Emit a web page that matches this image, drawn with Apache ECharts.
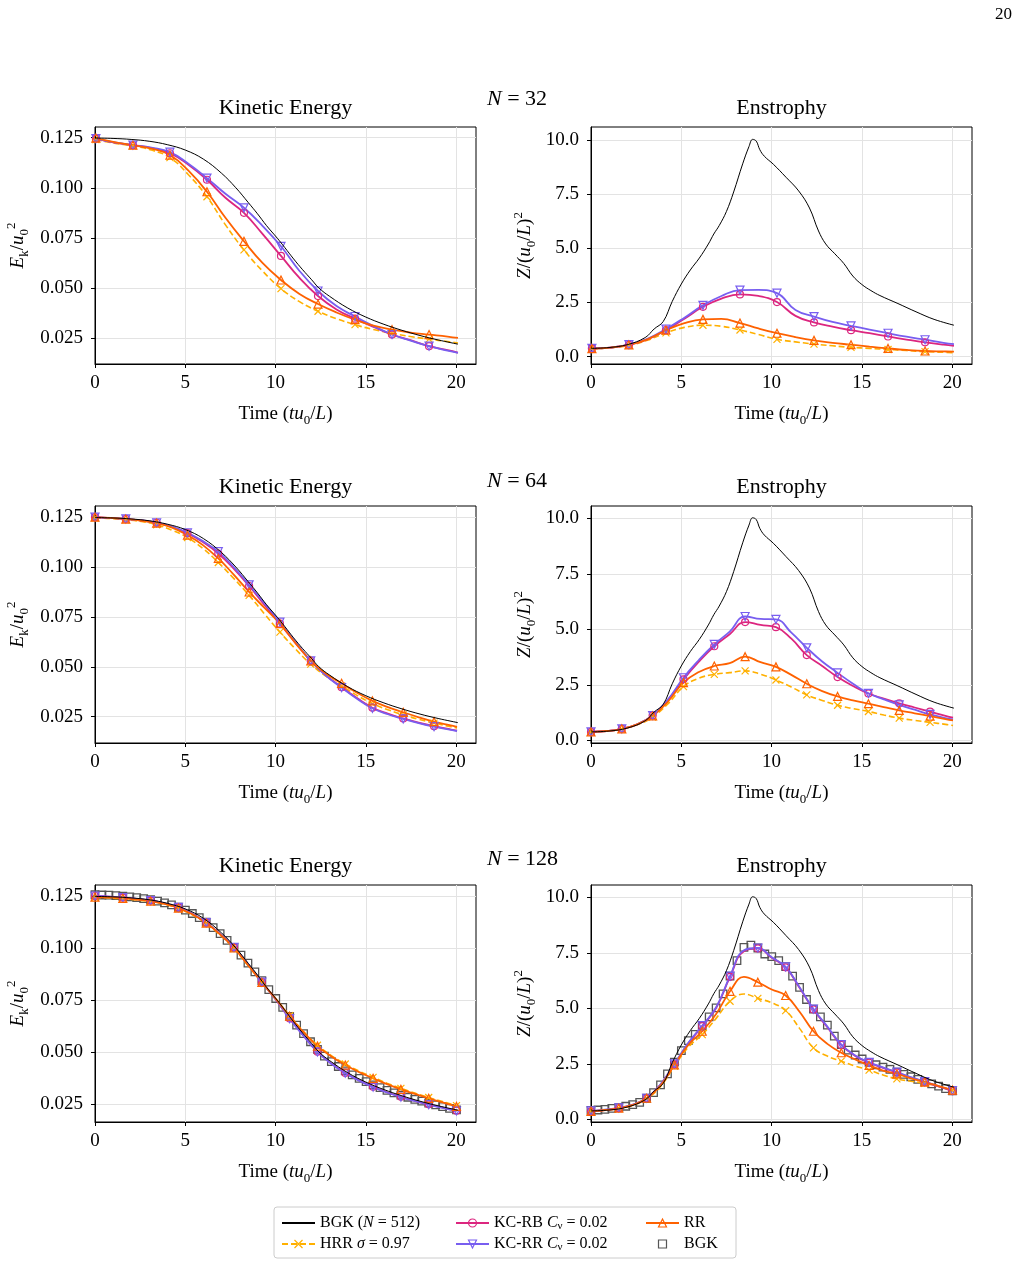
<!DOCTYPE html>
<html><head><meta charset="utf-8">
<script src="https://cdn.jsdelivr.net/npm/echarts@6/dist/echarts.min.js"></script>
<style>html,body{margin:0;padding:0;background:#fff}#c{width:1018px;height:1267px}</style>
</head><body><div id="c"></div>
<script>
// ---------- reference BGK (N = 512), same in all rows ----------
const tRefKE = [0,1,2,3,4,5,6,7,7.8,8.5,9,9.5,10.1,10.5,11,11.5,12,12.4,13,14,15,16,17,18,19,20.1];
const keRef  = [0.1248,0.1246,0.1241,0.1232,0.1215,0.1188,0.1143,0.1073,0.1000,0.0925,0.0870,0.0811,0.0748,0.0703,0.0645,0.0591,0.0541,0.0500,0.0458,0.0400,0.0355,0.0319,0.0289,0.0263,0.0241,0.0220];
const tRefEns = [0,1,2,3,3.5,4,4.5,5,5.5,6,6.5,6.8,7.1,7.5,7.9,8.4,8.75,8.95,9.15,9.35,9.6,10.1,10.8,11.5,12.1,12.6,13,13.5,14,14.5,15,15.5,16,17,18,19,20.1];
const ensRef  = [0.38,0.42,0.55,0.88,1.28,1.62,2.55,3.35,4.0,4.55,5.2,5.66,6.05,6.7,7.6,8.9,9.7,10.03,9.95,9.55,9.25,8.88,8.28,7.65,6.86,5.8,5.2,4.75,4.3,3.72,3.33,3.05,2.82,2.45,2.07,1.72,1.45];

// ---------- N = 32 ----------
const t32 = [0.05,1.075,2.1,3.125,4.15,5.175,6.2,7.225,8.25,9.275,10.3,11.325,12.35,13.375,14.4,15.425,16.45,17.475,18.5,19.525,20.1];
const ke32_HRR  = [0.1240,0.1222,0.1208,0.1188,0.1150,0.1065,0.0955,0.0815,0.0690,0.0585,0.0497,0.0432,0.0384,0.0347,0.0317,0.0293,0.0274,0.0258,0.0245,0.0233,0.0226];
const ke32_KCRB = [0.1245,0.1225,0.1212,0.1198,0.1172,0.1115,0.1040,0.0950,0.0875,0.0770,0.0660,0.0550,0.0460,0.0393,0.0347,0.0306,0.0268,0.0240,0.0210,0.0190,0.0178];
const ke32_KCRR = [0.1245,0.1226,0.1213,0.1200,0.1178,0.1120,0.1048,0.0970,0.0900,0.0810,0.0708,0.0585,0.0485,0.0410,0.0358,0.0310,0.0268,0.0238,0.0210,0.0188,0.0177];
const ke32_RR   = [0.1248,0.1228,0.1212,0.1195,0.1163,0.1085,0.0980,0.0850,0.0733,0.0625,0.0540,0.0470,0.0420,0.0378,0.0342,0.0312,0.0292,0.0278,0.0268,0.0258,0.0251];
const en32_HRR  = [0.36,0.41,0.52,0.76,1.10,1.35,1.45,1.40,1.23,1.02,0.80,0.68,0.58,0.50,0.43,0.38,0.33,0.28,0.23,0.20,0.18];
const en32_KCRB = [0.38,0.42,0.54,0.80,1.22,1.75,2.30,2.68,2.87,2.80,2.52,1.88,1.58,1.38,1.22,1.08,0.93,0.79,0.66,0.55,0.50];
const en32_KCRR = [0.38,0.42,0.55,0.82,1.27,1.80,2.37,2.80,3.07,3.08,2.93,2.15,1.85,1.60,1.42,1.25,1.08,0.92,0.78,0.64,0.58];
const en32_RR   = [0.37,0.42,0.54,0.80,1.22,1.55,1.72,1.74,1.55,1.30,1.08,0.90,0.75,0.64,0.55,0.46,0.38,0.31,0.26,0.24,0.23];

// ---------- N = 64 ----------
const t64 = [0,0.854,1.707,2.561,3.414,4.268,5.121,5.975,6.828,7.682,8.535,9.389,10.242,11.096,11.949,12.803,13.656,14.51,15.363,16.217,17.07,17.924,18.777,19.631,20.05];
const ke64_HRR  = [0.1246,0.1243,0.1237,0.1228,0.1212,0.1185,0.1148,0.1093,0.1023,0.0943,0.0858,0.0765,0.0674,0.0590,0.0513,0.0452,0.0404,0.0357,0.0315,0.0285,0.0259,0.0237,0.0218,0.0201,0.0194];
const ke64_KCRB = [0.1250,0.1246,0.1241,0.1234,0.1222,0.1202,0.1170,0.1125,0.1068,0.0992,0.0905,0.0810,0.0716,0.0620,0.0530,0.0456,0.0398,0.0343,0.0295,0.0265,0.0241,0.0220,0.0202,0.0187,0.0180];
const ke64_KCRR = [0.1250,0.1246,0.1241,0.1234,0.1222,0.1203,0.1172,0.1130,0.1077,0.1000,0.0911,0.0818,0.0724,0.0625,0.0530,0.0455,0.0396,0.0340,0.0292,0.0262,0.0239,0.0218,0.0200,0.0185,0.0178];
const ke64_RR   = [0.1250,0.1246,0.1240,0.1232,0.1220,0.1198,0.1160,0.1110,0.1043,0.0962,0.0875,0.0795,0.0716,0.0620,0.0530,0.0465,0.0417,0.0370,0.0329,0.0298,0.0272,0.0247,0.0225,0.0207,0.0199];
const en64_HRR  = [0.37,0.41,0.50,0.70,1.05,1.65,2.42,2.80,2.97,3.05,3.13,2.98,2.72,2.40,2.05,1.80,1.58,1.43,1.30,1.14,1.00,0.90,0.81,0.72,0.67];
const en64_KCRB = [0.38,0.42,0.52,0.72,1.12,1.82,2.75,3.55,4.24,4.78,5.33,5.20,5.10,4.58,3.84,3.35,2.85,2.45,2.11,1.88,1.67,1.48,1.29,1.10,1.02];
const en64_KCRR = [0.38,0.42,0.52,0.72,1.12,1.85,2.82,3.62,4.32,4.90,5.58,5.47,5.45,4.85,4.17,3.55,3.04,2.55,2.12,1.85,1.60,1.38,1.17,1.00,0.94];
const en64_RR   = [0.38,0.42,0.52,0.72,1.10,1.75,2.60,3.08,3.35,3.48,3.77,3.52,3.31,2.95,2.55,2.22,1.98,1.80,1.65,1.50,1.35,1.22,1.09,0.96,0.90];

// ---------- N = 128 ----------
const t128 = [0,0.77,1.54,2.31,3.08,3.85,4.62,5.39,6.16,6.93,7.7,8.47,9.24,10.01,10.78,11.55,12.32,13.09,13.86,14.63,15.4,16.17,16.94,17.71,18.48,19.25,20.02];
const ke128_HRR  = [0.1243,0.1241,0.1237,0.1231,0.1223,0.1210,0.1190,0.1160,0.1117,0.1062,0.0997,0.0916,0.0834,0.0756,0.0675,0.0598,0.0532,0.0482,0.0442,0.0408,0.0378,0.0350,0.0325,0.0302,0.0281,0.0261,0.0242];
const ke128_KCRB = [0.1250,0.1247,0.1242,0.1236,0.1228,0.1215,0.1195,0.1165,0.1122,0.1068,0.1003,0.0922,0.0836,0.0752,0.0661,0.0578,0.0501,0.0444,0.0399,0.0363,0.0332,0.0306,0.0284,0.0265,0.0248,0.0232,0.0217];
const ke128_KCRR = [0.1250,0.1247,0.1242,0.1236,0.1228,0.1215,0.1195,0.1165,0.1122,0.1068,0.1003,0.0922,0.0836,0.0752,0.0660,0.0577,0.0500,0.0443,0.0398,0.0362,0.0331,0.0305,0.0283,0.0264,0.0247,0.0231,0.0216];
const ke128_RR   = [0.1245,0.1243,0.1239,0.1233,0.1225,0.1212,0.1192,0.1162,0.1120,0.1065,0.1000,0.0918,0.0835,0.0755,0.0672,0.0595,0.0528,0.0478,0.0437,0.0403,0.0373,0.0345,0.0320,0.0298,0.0277,0.0257,0.0238];
const en128_HRR  = [0.36,0.41,0.49,0.63,0.92,1.48,2.40,3.25,3.82,4.55,5.32,5.65,5.45,5.25,4.90,4.10,3.22,2.85,2.62,2.40,2.22,2.00,1.82,1.72,1.62,1.48,1.30];
const en128_KCRB = [0.36,0.42,0.50,0.65,0.95,1.56,2.48,3.42,4.20,5.02,6.42,7.58,7.70,7.28,6.85,5.93,4.95,4.15,3.35,2.86,2.55,2.32,2.11,1.88,1.68,1.48,1.27];
const en128_KCRR = [0.38,0.44,0.52,0.66,0.95,1.58,2.50,3.45,4.22,5.05,6.45,7.62,7.72,7.30,6.87,5.95,4.97,4.18,3.37,2.88,2.57,2.34,2.13,1.90,1.70,1.50,1.30];
const en128_RR   = [0.36,0.42,0.50,0.65,0.95,1.52,2.45,3.35,3.97,4.75,5.77,6.42,6.18,5.85,5.58,4.85,3.97,3.40,3.00,2.70,2.43,2.20,2.05,1.85,1.68,1.50,1.32];
const tSq = [0,0.385,0.77,1.155,1.54,1.925,2.31,2.695,3.08,3.465,3.85,4.235,4.62,5.005,5.39,5.775,6.16,6.545,6.93,7.315,7.7,8.085,8.47,8.855,9.24,9.625,10.01,10.395,10.78,11.165,11.55,11.935,12.32,12.705,13.09,13.475,13.86,14.245,14.63,15.015,15.4,15.785,16.17,16.555,16.94,17.325,17.71,18.095,18.48,18.865,19.25,19.635,20.02];
const ke128_BGK = [0.1256,0.1255,0.1254,0.1252,0.1249,0.1246,0.1242,0.1237,0.1232,0.1225,0.1217,0.1207,0.1196,0.1182,0.1166,0.1146,0.1124,0.1098,0.1069,0.1037,0.1003,0.0966,0.0927,0.0885,0.0843,0.0800,0.0757,0.0714,0.0671,0.0629,0.0588,0.0549,0.0512,0.0480,0.0453,0.0430,0.0409,0.0390,0.0373,0.0357,0.0342,0.0328,0.0315,0.0303,0.0292,0.0282,0.0272,0.0263,0.0254,0.0245,0.0237,0.0229,0.0221];
const en128_BGK = [0.40,0.42,0.45,0.49,0.53,0.59,0.66,0.76,0.95,1.20,1.55,2.05,2.58,3.10,3.55,3.83,4.20,4.62,5.02,5.65,6.45,7.15,7.75,7.85,7.72,7.45,7.33,7.15,6.88,6.45,5.95,5.40,4.97,4.62,4.25,3.75,3.37,3.12,2.90,2.72,2.57,2.46,2.35,2.25,2.13,2.03,1.92,1.80,1.70,1.60,1.50,1.38,1.28];

// ---------- axes ----------
const xTicks = [0,5,10,15,20];
const keTicks = [0.025,0.05,0.075,0.1,0.125];
const enTicks = [0,2.5,5,7.5,10];
const rowTitles = ['N = 32','N = 64','N = 128'];

const F = 'Liberation Serif';
const COL = {BGK512:'#000000', HRR:'#FFB000', KCRB:'#DC267F', KCRR:'#785EF0', RR:'#FE6100', BGK:'#555555'};
const RICH = {
  i:{fontFamily:F,fontStyle:'italic',fontSize:19,lineHeight:26,verticalAlign:'middle',color:'#000'},
  r:{fontFamily:F,fontSize:19,lineHeight:26,verticalAlign:'middle',color:'#000'},
  sub:{fontFamily:F,fontSize:13,lineHeight:13,verticalAlign:'bottom',color:'#000'},
  sup:{fontFamily:F,fontSize:13,lineHeight:16,verticalAlign:'top',color:'#000'}
};
const NAME_KE = '{i|E}{sub|k}{r|/}{i|u}{sub|0}{sup|2}';
const NAME_EN = '{i|Z}{r|/(}{i|u}{sub|0}{r|/}{i|L}{r|)}{sup|2}';
const NAME_T = '{r|Time (}{i|tu}{sub|0}{r|/}{i|L}{r|)}';

const colLeft = [95, 591], gW = 381, rowTop = [127, 506, 885], gH = 237;
const yRanges = [[0.0121,0.1303],[-0.34,10.6],[0.0118,0.1306],[-0.12,10.56],[0.0163,0.1303],[-0.12,10.56]];

const grids = [], xAxes = [], yAxes = [];
for (let r = 0; r < 3; r++) for (let c = 0; c < 2; c++) {
  const g = r*2 + c, ke = c === 0;
  grids.push({left: colLeft[c], top: rowTop[r], width: gW, height: gH, show: true, borderColor: '#000', borderWidth: 1, backgroundColor: 'transparent'});
  xAxes.push({type:'value', gridIndex:g, min:0, max:21.1,
    axisLine:{show:true,onZero:false,lineStyle:{color:'#000',width:1}},
    axisTick:{show:true,length:4,customValues:xTicks,lineStyle:{color:'#000',width:1}},
    axisLabel:{customValues:xTicks,fontFamily:F,fontSize:19,color:'#000',margin:10},
    splitLine:{show:true,lineStyle:{color:'#e3e3e3',width:1}},
    name:NAME_T, nameLocation:'middle', nameGap:37, nameTextStyle:{rich:RICH,fontFamily:F,fontSize:19}});
  const tk = ke ? keTicks : enTicks;
  yAxes.push({type:'value', gridIndex:g, min:yRanges[g][0], max:yRanges[g][1],
    axisLine:{show:true,onZero:false,lineStyle:{color:'#000',width:1}},
    axisTick:{show:true,length:4,customValues:tk,lineStyle:{color:'#000',width:1}},
    axisLabel:{customValues:tk,fontFamily:F,fontSize:19,color:'#000',margin:12,formatter:v => v.toFixed(ke?3:1)},
    splitLine:{show:true,lineStyle:{color:'#e3e3e3',width:1}},
    name: ke ? NAME_KE : NAME_EN, nameLocation:'middle', nameRotate:90, nameGap: ke ? 64 : 53,
    nameTextStyle:{rich:RICH,fontFamily:F,fontSize:19}});
}

function pts(tArr, yArr, last) {
  return tArr.map((t,i) => (i % 2 === 0 && i <= last) ? [t, yArr[i]] : {value:[t, yArr[i]], symbol:'none'});
}
const STY = {
  HRR:{symbol:'path://M0,0L10,10M0,10L10,0', size:7, rot:0, dash:[6,3], w:1.6},
  KCRB:{symbol:'circle', size:7, rot:0, dash:'solid', w:1.8},
  KCRR:{symbol:'triangle', size:8, rot:180, dash:'solid', w:1.8},
  RR:{symbol:'triangle', size:8, rot:0, dash:'solid', w:1.8}
};
function lineSeries(name, g, tArr, yArr, last) {
  const s = STY[name];
  return {type:'line', name, xAxisIndex:g, yAxisIndex:g, data:pts(tArr,yArr,last),
    smooth:0.45, showSymbol:true, showAllSymbol:true,
    symbol:s.symbol, symbolSize:s.size, symbolRotate:s.rot,
    lineStyle:{color:COL[name], width:s.w, type:s.dash},
    itemStyle:{color:'none', borderColor:COL[name], borderWidth:1.2},
    emphasis:{disabled:true}, animation:false, z:3};
}
function refSeries(g, tArr, yArr) {
  return {type:'line', name:'BGK512', xAxisIndex:g, yAxisIndex:g, data:tArr.map((t,i)=>[t,yArr[i]]),
    smooth:0.4, showSymbol:false, symbol:'circle',
    lineStyle:{color:'#000', width:1}, itemStyle:{color:'#000'},
    emphasis:{disabled:true}, animation:false, z:5};
}
function sqSeries(g, tArr, yArr) {
  return {type:'line', name:'BGK', xAxisIndex:g, yAxisIndex:g, data:tArr.map((t,i)=>[t,yArr[i]]),
    showSymbol:true, showAllSymbol:true, symbol:'rect', symbolSize:7.5,
    lineStyle:{width:0, opacity:0}, itemStyle:{color:'none', borderColor:COL.BGK, borderWidth:1.3},
    emphasis:{disabled:true}, animation:false, z:2};
}

const panels = [
  {g:0, t:t32, last:18, d:{HRR:ke32_HRR, KCRB:ke32_KCRB, KCRR:ke32_KCRR, RR:ke32_RR}, ref:[tRefKE,keRef]},
  {g:1, t:t32, last:18, d:{HRR:en32_HRR, KCRB:en32_KCRB, KCRR:en32_KCRR, RR:en32_RR}, ref:[tRefEns,ensRef]},
  {g:2, t:t64, last:22, d:{HRR:ke64_HRR, KCRB:ke64_KCRB, KCRR:ke64_KCRR, RR:ke64_RR}, ref:[tRefKE,keRef]},
  {g:3, t:t64, last:22, d:{HRR:en64_HRR, KCRB:en64_KCRB, KCRR:en64_KCRR, RR:en64_RR}, ref:[tRefEns,ensRef]},
  {g:4, t:t128, last:26, d:{HRR:ke128_HRR, KCRB:ke128_KCRB, KCRR:ke128_KCRR, RR:ke128_RR}, ref:[tRefKE,keRef], sq:ke128_BGK},
  {g:5, t:t128, last:26, d:{HRR:en128_HRR, KCRB:en128_KCRB, KCRR:en128_KCRR, RR:en128_RR}, ref:[tRefEns,ensRef], sq:en128_BGK}
];
const series = [];
panels.forEach(p => {
  if (p.sq) series.push(sqSeries(p.g, tSq, p.sq));
  ['HRR','KCRB','KCRR','RR'].forEach(n => series.push(lineSeries(n, p.g, p.t, p.d[n], p.last)));
  series.push(refSeries(p.g, p.ref[0], p.ref[1]));
});

const LEG = {BGK512:'BGK ({i|N} = 512)', HRR:'HRR {i|σ} = 0.97', KCRB:'KC-RB {i|C}{sub|ν} = 0.02', KCRR:'KC-RR {i|C}{sub|ν} = 0.02', RR:'RR', BGK:'BGK'};
const legRich = {i:{fontFamily:F,fontStyle:'italic',fontSize:16,lineHeight:18,color:'#000'},
                 sub:{fontFamily:F,fontSize:11,lineHeight:8,verticalAlign:'bottom',color:'#000'}};
function legend(left, data) {
  return {orient:'vertical', left, top:1214, padding:0, itemGap:3, itemWidth:33, itemHeight:10,
    selectedMode:false, data, formatter:n => LEG[n], itemStyle:{borderWidth:1.2},
    textStyle:{fontFamily:F, fontSize:16, lineHeight:18, color:'#000', rich:legRich}};
}

const graphics = [
  {type:'rect', shape:{x:274,y:1207,width:462,height:51,r:3}, style:{fill:'#fff',stroke:'#cccccc',lineWidth:1}, z:-1, silent:true},
  {type:'text', x:1012, y:15, style:{text:'20', font:'17px "Liberation Serif"', fill:'#000', align:'right', verticalAlign:'middle'}, silent:true}
];
for (let r = 0; r < 3; r++) {
  const cy = rowTop[r] - 18.5;
  graphics.push({type:'text', x:colLeft[0]+gW/2, y:cy, style:{text:'Kinetic Energy', font:'22px "Liberation Serif"', fill:'#000', align:'center', verticalAlign:'middle'}, silent:true});
  graphics.push({type:'text', x:colLeft[1]+gW/2, y:cy, style:{text:'Enstrophy', font:'22px "Liberation Serif"', fill:'#000', align:'center', verticalAlign:'middle'}, silent:true});
  const parts = rowTitles[r].split(' = ');
  graphics.push({type:'text', x:487, y:[99,481,859][r], style:{text:'{i|'+parts[0]+'}{n| = '+parts[1]+'}', align:'left', verticalAlign:'middle',
    rich:{i:{fontFamily:F,fontStyle:'italic',fontSize:22,fill:'#000'}, n:{fontFamily:F,fontSize:22,fill:'#000'}}}, silent:true});
}

const chart = echarts.init(document.getElementById('c'), null, {renderer:'canvas'});
chart.setOption({
  animation:false, backgroundColor:'#fff',
  grid:grids, xAxis:xAxes, yAxis:yAxes, series,
  legend:[
    legend(281, [{name:'BGK512', itemStyle:{opacity:0}}, 'HRR']),
    legend(455, ['KCRB','KCRR']),
    legend(645, ['RR', {name:'BGK', lineStyle:{opacity:0}}])
  ],
  graphic:graphics
});
</script></body></html>
